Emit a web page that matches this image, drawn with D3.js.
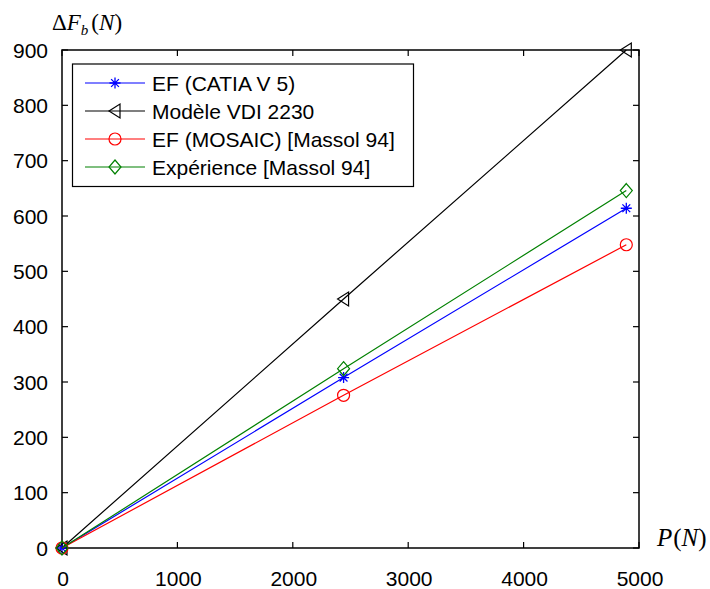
<!DOCTYPE html>
<html><head><meta charset="utf-8">
<script src="https://cdn.jsdelivr.net/npm/d3@7"></script>
<style>body{margin:0;background:#fff}svg{display:block}</style>
</head><body><svg id="c" width="710" height="589"></svg>
<script>
const loads = [0, 2440, 4890];
const efCatia = [0, 308, 614];
const vdi = [0, 450, 900];
const efMosaic = [0, 276, 548];
const experience = [0, 324, 646];
const xTicks = [0, 1000, 2000, 3000, 4000, 5000];
const yTicks = [0, 100, 200, 300, 400, 500, 600, 700, 800, 900];
const seriesNames = ["EF (CATIA V 5)", "Modèle VDI 2230", "EF (MOSAIC) [Massol 94]", "Expérience [Massol 94]"];
const seriesColors = ["#0000ff", "#000000", "#ff0000", "#008000"];
const seriesMarkers = ["star", "triLeft", "circle", "diamond"];
const seriesValues = [efCatia, vdi, efMosaic, experience];

const svg = d3.select("#c");
const L = 62, R = 639, T = 50, B = 548;
const x = d3.scaleLinear().domain([0, 5000]).range([L, R]);
const y = d3.scaleLinear().domain([0, 900]).range([B, T]);
const font = "'Liberation Sans', Arial, sans-serif";

svg.append("rect").attr("x", L).attr("y", T).attr("width", R - L).attr("height", B - T)
  .attr("fill", "none").attr("stroke", "#000").attr("stroke-width", 1.5);

const tl = 6;
xTicks.forEach(v => {
  svg.append("line").attr("x1", x(v)).attr("x2", x(v)).attr("y1", B).attr("y2", B - tl).attr("stroke", "#000").attr("stroke-width", 1.2);
  svg.append("line").attr("x1", x(v)).attr("x2", x(v)).attr("y1", T).attr("y2", T + tl).attr("stroke", "#000").attr("stroke-width", 1.2);
  svg.append("text").attr("x", x(v) + 1).attr("y", 586).attr("text-anchor", "middle")
    .attr("font-family", font).attr("font-size", 21).text(v);
});
yTicks.forEach(v => {
  svg.append("line").attr("x1", L).attr("x2", L + tl).attr("y1", y(v)).attr("y2", y(v)).attr("stroke", "#000").attr("stroke-width", 1.2);
  svg.append("line").attr("x1", R).attr("x2", R - tl).attr("y1", y(v)).attr("y2", y(v)).attr("stroke", "#000").attr("stroke-width", 1.2);
  svg.append("text").attr("x", 48).attr("y", y(v) + 7.5).attr("text-anchor", "end")
    .attr("font-family", font).attr("font-size", 21).text(v);
});

function marker(g, type, cx, cy, color) {
  if (type === "star") {
    const s = 5.5, d = 3.9;
    g.append("path").attr("d", `M${cx - s},${cy}L${cx + s},${cy}M${cx},${cy - s}L${cx},${cy + s}M${cx - d},${cy - d}L${cx + d},${cy + d}M${cx - d},${cy + d}L${cx + d},${cy - d}`)
      .attr("stroke", color).attr("stroke-width", 1.3).attr("fill", "none");
  } else if (type === "triLeft") {
    g.append("path").attr("d", `M${cx - 6},${cy}L${cx + 5},${cy - 7}L${cx + 5},${cy + 7}Z`)
      .attr("stroke", color).attr("stroke-width", 1.2).attr("fill", "none");
  } else if (type === "circle") {
    g.append("circle").attr("cx", cx).attr("cy", cy).attr("r", 6)
      .attr("stroke", color).attr("stroke-width", 1.2).attr("fill", "none");
  } else if (type === "diamond") {
    g.append("path").attr("d", `M${cx},${cy - 7}L${cx + 6},${cy}L${cx},${cy + 7}L${cx - 6},${cy}Z`)
      .attr("stroke", color).attr("stroke-width", 1.2).attr("fill", "none");
  }
}

const line = d3.line().x(d => x(d[0])).y(d => y(d[1]));
const plot = svg.append("g");
seriesValues.forEach((vals, i) => {
  const pts = loads.map((l, j) => [l, vals[j]]);
  plot.append("path").attr("d", line(pts)).attr("fill", "none")
    .attr("stroke", seriesColors[i]).attr("stroke-width", 1.2);
  pts.forEach(p => marker(plot, seriesMarkers[i], x(p[0]), y(p[1]), seriesColors[i]));
});

const lg = svg.append("g");
lg.append("rect").attr("x", 72.5).attr("y", 64).attr("width", 341).attr("height", 122.5)
  .attr("fill", "#fff").attr("stroke", "#000").attr("stroke-width", 1.2);
const rows = [83, 111, 139, 167];
seriesNames.forEach((n, i) => {
  const ry = rows[i];
  lg.append("line").attr("x1", 85).attr("x2", 145).attr("y1", ry).attr("y2", ry)
    .attr("stroke", seriesColors[i]).attr("stroke-width", 1.2);
  marker(lg, seriesMarkers[i], 115, ry, seriesColors[i]);
  lg.append("text").attr("x", 152).attr("y", ry + 7.5).attr("font-family", font)
    .attr("font-size", 21).text(n);
});

const serif = "'Liberation Serif', 'Times New Roman', serif";
const yl = svg.append("text").attr("x", 52).attr("y", 30).attr("font-family", serif).attr("font-size", 23);
yl.append("tspan").text("Δ");
yl.append("tspan").attr("font-style", "italic").text("F");
yl.append("tspan").attr("font-style", "italic").attr("font-size", 15).attr("dy", 5).text("b");
yl.append("tspan").attr("dy", -5).attr("dx", 3).text("(");
yl.append("tspan").attr("font-style", "italic").text("N");
yl.append("tspan").text(")");

const xl = svg.append("text").attr("x", 657).attr("y", 546).attr("font-family", serif).attr("font-size", 25);
xl.append("tspan").attr("font-style", "italic").text("P");
xl.append("tspan").attr("dx", 1).text("(");
xl.append("tspan").attr("font-style", "italic").text("N");
xl.append("tspan").text(")");
</script></body></html>
